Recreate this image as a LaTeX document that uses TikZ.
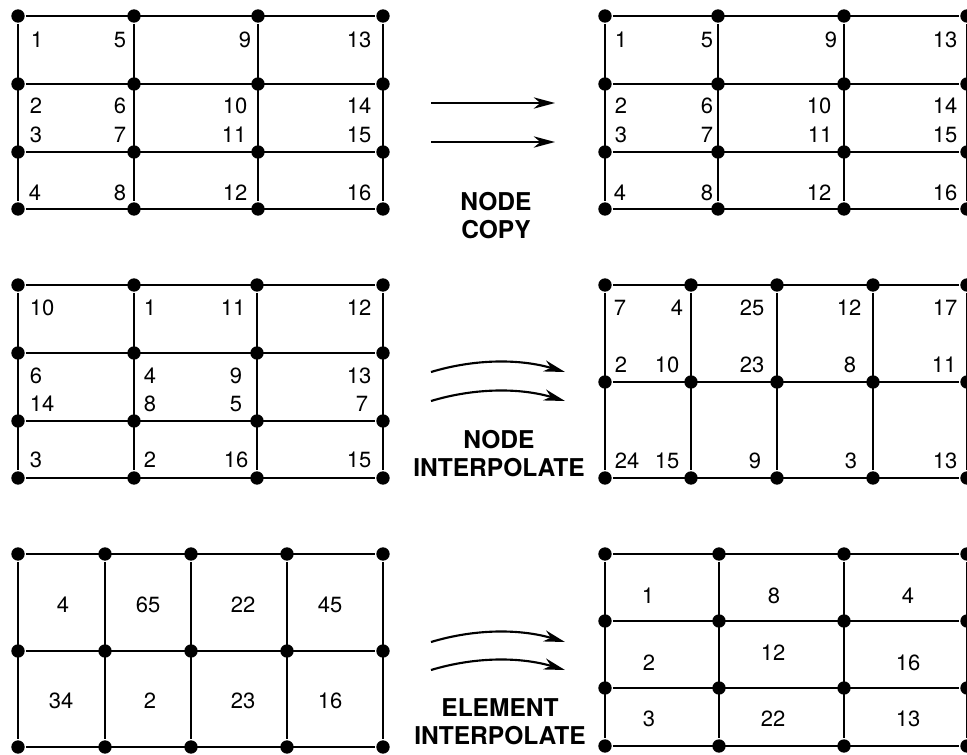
\documentclass[tikz,border=0pt]{standalone}
\usepackage{fontspec}
\setmainfont{TeX Gyre Heros}
\usetikzlibrary{arrows.meta}
\tikzset{every picture/.style={line width=1.7pt}}
\tikzset{
  dot/.style={circle,fill=black,inner sep=0pt,minimum size=10pt},
  num/.style={inner sep=0pt,anchor=base,font=\fontsize{16.5}{19}\selectfont},
  mlabel/.style={inner sep=0pt,align=center,font=\bfseries\fontsize{18.4}{21}\selectfont},
  arr/.style={line width=1.6pt,-{Stealth[length=16pt,width=8.5pt,inset=5pt]}}
}
\begin{document}
\begin{tikzpicture}[x=0.75pt,y=0.75pt,yscale=-1,xscale=1]
\useasboundingbox (0,0) rectangle (967,754);

% Mesh: top left
\foreach \x [count=\i] in {18,134,258,383}
  \foreach \y [count=\j] in {16,84,152,209}
    \node[dot] (ta\i\j) at (\x,\y) {};
\foreach \j in {1,...,4} \draw (ta1\j) -- (ta4\j);
\foreach \i in {1,...,4} \draw (ta\i1) -- (ta\i4);
\foreach \t/\x/\y in {1/37/47,5/120/47,9/245/47,13/359/47,
  2/36/113,6/120/113,10/235/113,14/359/113,
  3/36/142,7/120/142,11/234/142,15/359/142,
  4/35/200,8/120/200,12/235/200,16/359/200}
    \node[num] (ta-\t) at (\x,\y) {\t};

% Mesh: top right
\foreach \x [count=\i] in {605,718,844,967}
  \foreach \y [count=\j] in {16,84,152,209}
    \node[dot] (tb\i\j) at (\x,\y) {};
\foreach \j in {1,...,4} \draw (tb1\j) -- (tb4\j);
\foreach \i in {1,...,4} \draw (tb\i1) -- (tb\i4);
\foreach \t/\x/\y in {1/621/47,5/707/47,9/831/47,13/945/47,
  2/621/113,6/707/113,10/819/113,14/945/113,
  3/621/142,7/707/142,11/820/142,15/945/142,
  4/620/200,8/707/200,12/819/200,16/945/200}
    \node[num] (tb-\t) at (\x,\y) {\t};

% Mesh: middle left
\foreach \x [count=\i] in {18,134,257,383}
  \foreach \y [count=\j] in {285,353,421,478}
    \node[dot] (ma\i\j) at (\x,\y) {};
\foreach \j in {1,...,4} \draw (ma1\j) -- (ma4\j);
\foreach \i in {1,...,4} \draw (ma\i1) -- (ma\i4);
\foreach \t/\x/\y in {10/42/315,1/150/315,11/233/315,12/359/315,
  6/36/383,4/150/383,9/236/383,13/359/383,
  14/42/411,8/150/411,5/236/411,7/362/411,
  3/36/467,2/150/467,16/236/467,15/359/467}
    \node[num] (ma-\t) at (\x,\y) {\t};

% Mesh: middle right
\foreach \x [count=\i] in {605,691,777,873,967}
  \foreach \y [count=\j] in {285,382,478}
    \node[dot] (mb\i\j) at (\x,\y) {};
\foreach \j in {1,...,3} \draw (mb1\j) -- (mb5\j);
\foreach \i in {1,...,5} \draw (mb\i1) -- (mb\i3);
\foreach \t/\x/\y in {7/620/315,4/677/315,25/752/315,12/849/315,17/945/315,
  2/621/372,10/667/372,23/752/372,8/850/372,11/944/372,
  24/627/468,15/667/468,9/755/468,3/851/468,13/945/468}
    \node[num] (mb-\t) at (\x,\y) {\t};

% Mesh: bottom left
\foreach \x [count=\i] in {18,105,191,287,383}
  \foreach \y [count=\j] in {554,651,747}
    \node[dot] (ba\i\j) at (\x,\y) {};
\foreach \j in {1,...,3} \draw (ba1\j) -- (ba5\j);
\foreach \i in {1,...,5} \draw (ba\i1) -- (ba\i3);
\foreach \t/\x/\y in {4/63/612,65/148/612,22/243/612,45/330/612,
  34/61/708,2/150/708,23/243/708,16/330/708}
    \node[num] (ba-\t) at (\x,\y) {\t};

% Mesh: bottom right
\foreach \x [count=\i] in {605,719,844,967}
  \foreach \y [count=\j] in {554,621,688,746}
    \node[dot] (bb\i\j) at (\x,\y) {};
\foreach \j in {1,...,4} \draw (bb1\j) -- (bb4\j);
\foreach \i in {1,...,4} \draw (bb\i1) -- (bb\i4);
\foreach \t/\x/\y in {1/648/603,8/774/603,4/908/603,
  2/649/670,12/773/660,16/908/670,
  3/649/726,22/773/726,13/908/726}
    \node[num] (bb-\t) at (\x,\y) {\t};

% Arrows
\coordinate (a1s) at (431,103); \coordinate (a1e) at (555,103);
\coordinate (a2s) at (431,142); \coordinate (a2e) at (555,142);
\draw[arr] (a1s) -- (a1e);
\draw[arr] (a2s) -- (a2e);
\coordinate (b1s) at (431,372); \coordinate (b1e) at (565,372);
\coordinate (b2s) at (431,401); \coordinate (b2e) at (565,401);
\draw[arr] (b1s) .. controls +(44,-13.3) and +(-45,-13.3) .. (b1e);
\draw[arr] (b2s) .. controls +(44,-13.3) and +(-45,-13.3) .. (b2e);
\coordinate (c1s) at (431,642); \coordinate (c1e) at (565,642);
\coordinate (c2s) at (431,670); \coordinate (c2e) at (565,670);
\draw[arr] (c1s) .. controls +(44,-13.3) and +(-45,-13.3) .. (c1e);
\draw[arr] (c2s) .. controls +(44,-13.3) and +(-45,-13.3) .. (c2e);

% Text Node
\node[mlabel] (copy) at (496,216) {NODE\\COPY};
\node[mlabel] (nodeint) at (499,453.5) {NODE\\INTERPOLATE};
\node[mlabel] (elemint) at (500,722) {ELEMENT\\INTERPOLATE};

\end{tikzpicture}
\end{document}
